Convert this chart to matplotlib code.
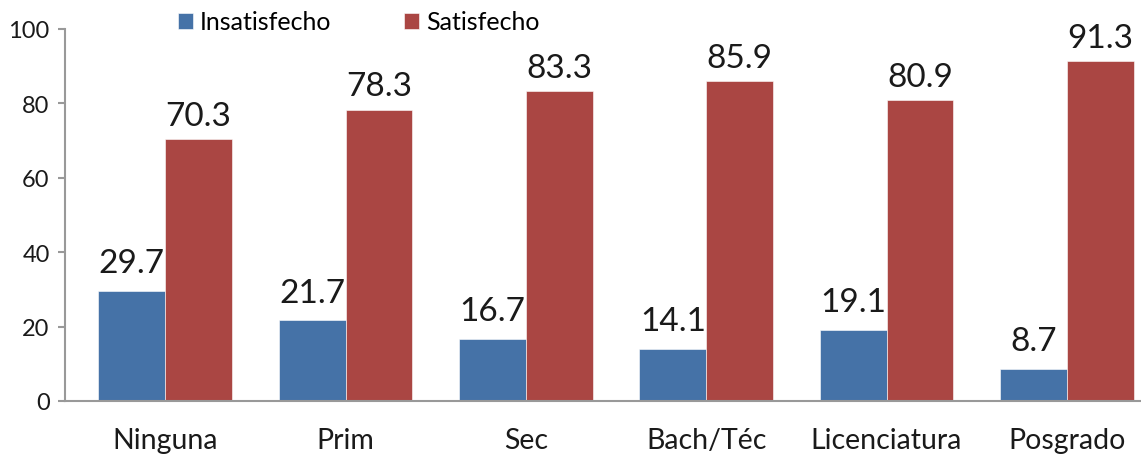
import matplotlib
matplotlib.use("Agg")
import matplotlib.pyplot as plt
import numpy as np

categories = ["Ninguna", "Prim", "Sec", "Bach/Téc", "Licenciatura", "Posgrado"]
insatisfecho = [29.7, 21.7, 16.7, 14.1, 19.1, 8.7]
satisfecho = [70.3, 78.3, 83.3, 85.9, 80.9, 91.3]
series_names = ["Insatisfecho", "Satisfecho"]
yticks = [0, 20, 40, 60, 80, 100]

plt.rcParams['font.family'] = ['Lato', 'DejaVu Sans']
plt.rcParams['font.weight'] = 'normal'

fig = plt.figure(figsize=(11.41, 4.60), dpi=100)
ax = fig.add_axes([65/1141, 1-402/460, (1140-65)/1141, (402-30)/460])

x = np.arange(len(categories))
w = 0.37
blue = "#4572A7"
red = "#AA4643"
b1 = ax.bar(x - w/2, insatisfecho, w, color=blue, label=series_names[0], edgecolor="white", linewidth=0.4)
b2 = ax.bar(x + w/2, satisfecho, w, color=red, label=series_names[1], edgecolor="white", linewidth=0.4)

for bars, vals, off in ((b1, insatisfecho, 9), (b2, satisfecho, 6)):
    for r, v in zip(bars, vals):
        ax.annotate(f"{v:.1f}", (r.get_x() + r.get_width()/2, v), xytext=(0, off),
                    textcoords="offset points", ha="center", va="bottom",
                    fontsize=24, color="#1a1a1a")

ax.set_xlim(-100/180, 5 + 73/180)
ax.set_ylim(0, 100)
ax.set_yticks(yticks)
ax.set_yticklabels([str(t) for t in yticks])
ax.set_xticks(x)
ax.set_xticklabels(categories)
for s in ("top", "right"):
    ax.spines[s].set_visible(False)
for s in ("left", "bottom"):
    ax.spines[s].set_color("#999999")
    ax.spines[s].set_linewidth(1.5)
ax.tick_params(axis="y", length=5, width=1.5, color="#999999", labelsize=17, pad=6, labelcolor="#1a1a1a")
ax.tick_params(axis="x", length=0, labelsize=20.5, pad=19, labelcolor="#1a1a1a")

leg = fig.legend(handles=[b1, b2], labels=series_names, loc="upper left",
                 bbox_to_anchor=(155/1141, 1.024), ncol=2, frameon=False,
                 fontsize=18, handlelength=0.6, handleheight=0.6, handletextpad=0.3,
                 columnspacing=2.9)

fig.savefig("out.png", dpi=100)
